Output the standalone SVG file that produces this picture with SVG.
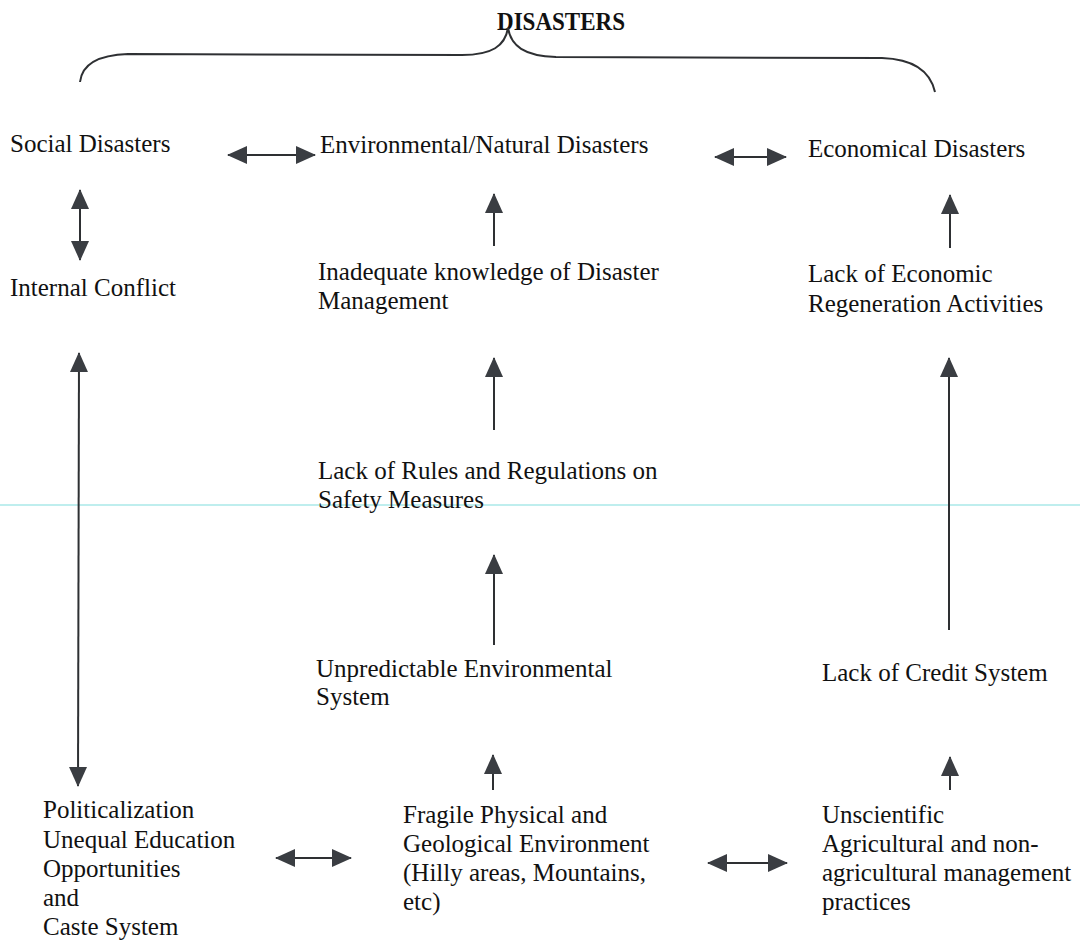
<svg xmlns="http://www.w3.org/2000/svg" width="1080" height="945" viewBox="0 0 1080 945">
<style>
text{font-family:"Liberation Serif","Times New Roman",serif;font-size:25px;fill:#111111}
.title{font-weight:bold;font-size:26px}
.c{stroke:#2e3033;stroke-width:2;fill:none}
</style>
<defs>
<marker id="ah" viewBox="0 0 20 18" refX="19" refY="9" markerWidth="20" markerHeight="18" markerUnits="userSpaceOnUse" orient="auto-start-reverse">
<path d="M0,0 L20,9 L0,18 z" fill="#3a3d42"/>
</marker>
</defs>
<rect width="1080" height="945" fill="#ffffff"/>
<line x1="0" y1="505" x2="1080" y2="505" stroke="#bfeeee" stroke-width="2"/>

<g id="title">
<text class="title" x="497" y="30" textLength="128" lengthAdjust="spacingAndGlyphs">DISASTERS</text>
<path class="c" d="M80,82 C82,64 98,55 128,54 L462,55 C492,55 505,46 508,28 C511,46 524,56 556,57 L882,58 C912,59 930,70 935,92"/>
</g>

<g id="social"><text x="10" y="152">Social Disasters</text></g>
<g id="environmental"><text x="320" y="153">Environmental/Natural Disasters</text></g>
<g id="economical"><text x="808" y="157">Economical Disasters</text></g>
<g id="internal"><text x="10" y="296">Internal Conflict</text></g>
<g id="inadequate"><text x="318" y="280">Inadequate knowledge of Disaster</text><text x="318" y="309">Management</text></g>
<g id="lackeconomic"><text x="808" y="282">Lack of Economic</text><text x="808" y="312">Regeneration Activities</text></g>
<g id="rules"><text x="318" y="479">Lack of Rules and Regulations on</text><text x="318" y="508">Safety Measures</text></g>
<g id="unpredictable"><text x="316" y="677">Unpredictable Environmental</text><text x="316" y="705">System</text></g>
<g id="credit"><text x="822" y="681">Lack of Credit System</text></g>
<g id="politicalization"><text x="43" y="818">Politicalization</text><text x="43" y="848">Unequal Education</text><text x="43" y="877">Opportunities</text><text x="43" y="906">and</text><text x="43" y="935">Caste System</text></g>
<g id="fragile"><text x="403" y="823">Fragile Physical and</text><text x="403" y="852">Geological Environment</text><text x="403" y="881">(Hilly areas, Mountains,</text><text x="403" y="910">etc)</text></g>
<g id="unscientific"><text x="822" y="823">Unscientific</text><text x="822" y="852">Agricultural and non-</text><text x="822" y="881">agricultural management</text><text x="822" y="910">practices</text></g>

<g id="connectors">
<line class="c" x1="228" y1="155" x2="315" y2="155" marker-start="url(#ah)" marker-end="url(#ah)"/>
<line class="c" x1="715" y1="157" x2="786" y2="157" marker-start="url(#ah)" marker-end="url(#ah)"/>
<line class="c" x1="80" y1="190" x2="80" y2="260" marker-start="url(#ah)" marker-end="url(#ah)"/>
<line class="c" x1="79" y1="353" x2="78" y2="786" marker-start="url(#ah)" marker-end="url(#ah)"/>
<line class="c" x1="494" y1="246" x2="494" y2="194" marker-end="url(#ah)"/>
<line class="c" x1="494" y1="430" x2="494" y2="358" marker-end="url(#ah)"/>
<line class="c" x1="494" y1="645" x2="494" y2="555" marker-end="url(#ah)"/>
<line class="c" x1="493" y1="790" x2="493" y2="755" marker-end="url(#ah)"/>
<line class="c" x1="276" y1="858" x2="351" y2="858" marker-start="url(#ah)" marker-end="url(#ah)"/>
<line class="c" x1="708" y1="863" x2="787" y2="863" marker-start="url(#ah)" marker-end="url(#ah)"/>
<line class="c" x1="950" y1="790" x2="950" y2="757" marker-end="url(#ah)"/>
<line class="c" x1="949" y1="630" x2="949" y2="358" marker-end="url(#ah)"/>
<line class="c" x1="950" y1="248" x2="950" y2="195" marker-end="url(#ah)"/>
</g>
</svg>
